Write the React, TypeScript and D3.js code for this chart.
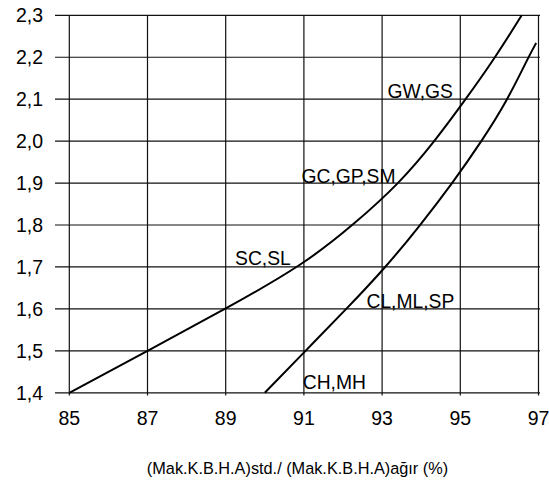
import React from "react";
import * as d3 from "d3";

const xTicks = [85, 87, 89, 91, 93, 95, 97];
const yTicks = [1.4, 1.5, 1.6, 1.7, 1.8, 1.9, 2.0, 2.1, 2.2, 2.3];

const curveAX = [85, 87, 89, 91, 92.26, 93.45, 94.35, 95.14, 95.9, 96.57];
const curveAY = [1.4, 1.5, 1.6, 1.706, 1.8, 1.9, 2.0, 2.1, 2.2, 2.3];

const curveBX = [90.0, 91.04, 92.09, 93.1, 93.98, 94.8, 95.55, 96.22, 96.74, 96.94];
const curveBY = [1.4, 1.5, 1.6, 1.7, 1.8, 1.9, 2.0, 2.1, 2.2, 2.234];

const labelTexts = ["GW,GS", "GC,GP,SM", "SC,SL", "CL,ML,SP", "CH,MH"];
const labelX = [93.14, 90.94, 89.24, 92.6, 90.97];
const labelY = [2.103, 1.9, 1.705, 1.602, 1.41];

const xTitle = "(Mak.K.B.H.A)std./ (Mak.K.B.H.A)ağır (%)";

export default function App() {
  const W = 549, H = 489;
  const x = d3.scaleLinear().domain([85, 97]).range([69.3, 538.5]);
  const y = d3.scaleLinear().domain([1.4, 2.3]).range([392.8, 15.3]);
  const line = d3
    .line<[number, number]>()
    .x((d) => x(d[0]))
    .y((d) => y(d[1]))
    .curve(d3.curveBasis);
  const a: [number, number][] = curveAX.map((v, i) => [v, curveAY[i]]);
  const b: [number, number][] = curveBX.map((v, i) => [v, curveBY[i]]);
  const font = "Liberation Sans, Arial, sans-serif";
  return (
    <svg
      width={W}
      height={H}
      style={{ position: "absolute", left: 0, top: 0, background: "#fff" }}
    >
      <rect width={W} height={H} fill="#fff" />
      {yTicks.map((t) => (
        <line
          key={"h" + t}
          x1={55}
          x2={540}
          y1={y(t)}
          y2={y(t)}
          stroke="#111"
          strokeWidth={1.2}
        />
      ))}
      {xTicks.map((t) => (
        <line
          key={"v" + t}
          x1={x(t)}
          x2={x(t)}
          y1={y(2.3)}
          y2={395.5}
          stroke="#111"
          strokeWidth={1.2}
        />
      ))}
      <path d={line(a) || ""} fill="none" stroke="#000" strokeWidth={2} />
      <path d={line(b) || ""} fill="none" stroke="#000" strokeWidth={2} />
      {yTicks.map((t) => (
        <text
          key={"yl" + t}
          x={43}
          y={y(t)}
          dy="0.36em"
          textAnchor="end"
          fontFamily={font}
          fontSize={19.5}
          fill="#000"
        >
          {d3.format(".1f")(t).replace(".", ",")}
        </text>
      ))}
      {xTicks.map((t) => (
        <text
          key={"xl" + t}
          x={x(t)}
          y={425}
          textAnchor="middle"
          fontFamily={font}
          fontSize={19.5}
          fill="#000"
        >
          {t}
        </text>
      ))}
      {labelTexts.map((s, i) => (
        <text
          key={s}
          x={x(labelX[i])}
          y={y(labelY[i])}
          fontFamily={font}
          fontSize={19.3}
          fill="#000"
        >
          {s}
        </text>
      ))}
      <text
        x={297.5}
        y={473.5}
        textAnchor="middle"
        fontFamily={font}
        fontSize={16.3}
        fill="#000"
      >
        {xTitle}
      </text>
    </svg>
  );
}
